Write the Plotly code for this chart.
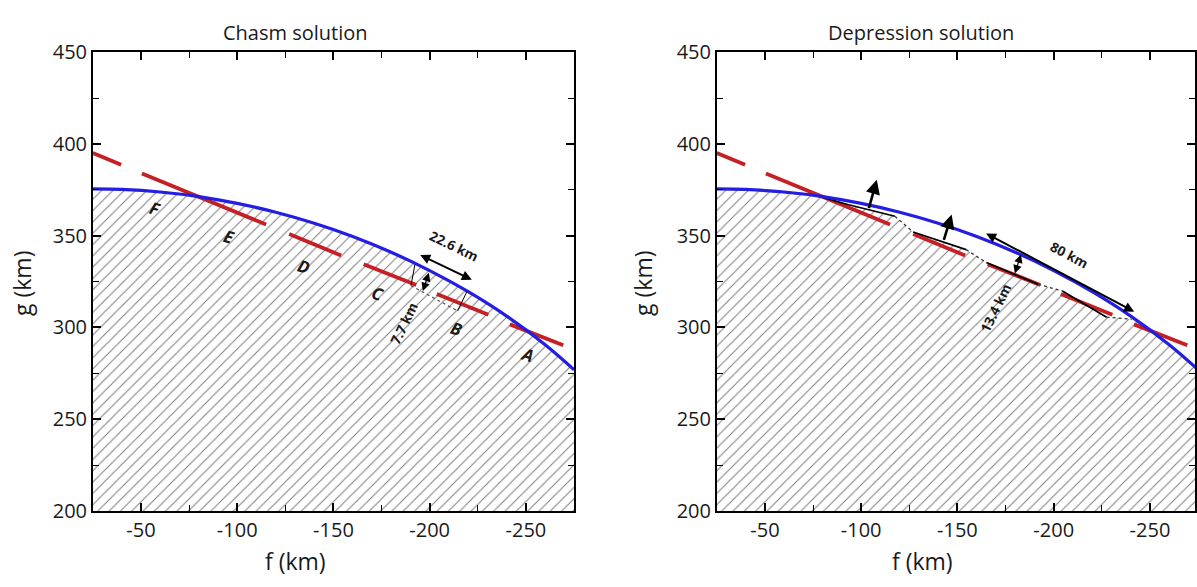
import plotly.graph_objects as go

W, H = 1197, 587

# ---------------- data ----------------
# outer surface (blue curve)
blue_f = [-25, -40, -60, -80, -100, -120, -140, -160, -180, -200, -220, -240, -260, -275]
blue_g = [375.5, 375.2, 373.8, 371.3, 367.6, 362.8, 356.8, 349.6, 341.0, 331.0, 319.5, 306.2, 290.6, 277.0]

# red dashed fault line (segments)
red_f = [[-25, -39.7], [-50.5, -115], [-127, -154], [-165.7, -193], [-203.7, -230.5], [-241.7, -269.4]]
red_g = [[395, 388.6], [383.9, 356.1], [350.9, 339.2], [334.5, 323.2], [318.2, 306.9], [301.7, 290.3]]

# fault labels
fault_names = ["A", "B", "C", "D", "E", "F"]
fault_f = [-251, -214, -173, -134.7, -95.5, -57.5]
fault_g = [285.5, 299.5, 318.5, 333.5, 349.5, 365]

# chasm (left panel)
chasm_wall_f = [[-192.3, -190.3], [-214.5, -219.3]]
chasm_wall_g = [[334.2, 322.8], [309.0, 319.5]]
chasm_floor_f = [-190.3, -196.0, -214.5]
chasm_floor_g = [322.8, 319.6, 309.0]

# depression profile (right panel, top of hatched body)
dep_f = [-25, -45, -75, -93, -117.5, -127, -154.5, -165, -192, -204.5, -227.5, -240.5, -250, -260, -275]
dep_g = [375.5, 375.0, 372.3, 367.0, 360.6, 352.0, 342.4, 335.4, 323.5, 319.9, 305.6, 304.5, 298.5, 290.6, 277.0]
dep_solid_f = [[-25, -45, -75, -93, -117.5], [-127, -154.5], [-165, -192], [-204.5, -227.5]]
dep_solid_g = [[375.5, 375.0, 372.3, 367.0, 360.6], [352.0, 342.4], [335.4, 323.5], [319.9, 305.6]]
dep_dot_f = [[-117.5, -127], [-154.5, -165], [-192, -204.5], [-227.5, -240.5]]
dep_dot_g = [[360.6, 352.0], [342.4, 335.4], [323.5, 319.9], [305.6, 304.5]]

# arrows: (tail_f, tail_g, head_f, head_g)
left_arrows = [(-194.3, 339.9, -221.9, 326.0), (-196.2, 319.0, -199.6, 329.8)]
left_arrow_w = [2.0, 1.3]
right_up_arrows = [(-103.8, 364.2, -108.1, 380.5), (-142.7, 346.9, -147.0, 361.5)]
right_dbl_arrows = [(-164.1, 351.7, -241.8, 308.6), (-179.6, 328.6, -183.0, 339.8)]
right_dbl_w = [2.0, 1.3]

# measure labels
left_texts = ["22.6 km", "7.7 km"]
left_text_f = [-212.5, -186.5]
left_text_g = [344.5, 302.0]
left_text_ang = [26, -64]
right_texts = ["80 km", "13.4 km"]
right_text_f = [-208.0, -170.0]
right_text_g = [339.5, 310.5]
right_text_ang = [28, -64]

titles = ["Chasm solution", "Depression solution"]
xticks = [-50, -100, -150, -200, -250]
xtick_text = ["-50", "-100", "-150", "-200", "-250"]
yticks = [200, 250, 300, 350, 400, 450]

# ---------------- styling ----------------
BLUE = "rgb(35,30,225)"
RED = "rgb(196,32,38)"
FONT = "Open Sans"
TXT = "#1a1a1a"


def seg_xy(fl, gl):
    xs, ys = [], []
    for f, g in zip(fl, gl):
        xs += list(f) + [None]
        ys += list(g) + [None]
    return xs, ys


fig = go.Figure()
hatch = dict(shape="/", size=8, solidity=0.13, fgcolor="black", bgcolor="white")

for ax, (xa, ya) in enumerate([("x", "y"), ("x2", "y2")]):
    top_f = blue_f if ax == 0 else dep_f
    top_g = blue_g if ax == 0 else dep_g
    fig.add_trace(go.Scatter(x=top_f, y=top_g, xaxis=xa, yaxis=ya, mode="lines",
                             line=dict(width=0, shape="spline" if ax == 0 else "linear"),
                             fill="tozeroy", fillcolor="white", fillpattern=hatch,
                             hoverinfo="skip", showlegend=False))
    rx, ry = seg_xy(red_f, red_g)
    fig.add_trace(go.Scatter(x=rx, y=ry, xaxis=xa, yaxis=ya, mode="lines",
                             line=dict(color=RED, width=3.8), showlegend=False))

# right panel black depression lines (drawn before blue)
sx, sy = seg_xy(dep_solid_f, dep_solid_g)
fig.add_trace(go.Scatter(x=sx, y=sy, xaxis="x2", yaxis="y2", mode="lines",
                         line=dict(color="black", width=1.7), showlegend=False))
dx, dy = seg_xy(dep_dot_f, dep_dot_g)
fig.add_trace(go.Scatter(x=dx, y=dy, xaxis="x2", yaxis="y2", mode="lines",
                         line=dict(color="#333", width=1.3, dash="dot"), showlegend=False))

for xa, ya in [("x", "y"), ("x2", "y2")]:
    fig.add_trace(go.Scatter(x=blue_f, y=blue_g, xaxis=xa, yaxis=ya, mode="lines",
                             line=dict(color=BLUE, width=3.2, shape="spline"), showlegend=False))

# chasm lines (left)
wx, wy = seg_xy(chasm_wall_f, chasm_wall_g)
fig.add_trace(go.Scatter(x=wx, y=wy, xaxis="x", yaxis="y", mode="lines",
                         line=dict(color="black", width=1), showlegend=False))
fig.add_trace(go.Scatter(x=chasm_floor_f, y=chasm_floor_g, xaxis="x", yaxis="y", mode="lines",
                         line=dict(color="#555", width=1.2, dash="dot"), showlegend=False))

ann = []
# fault labels
for n, f, g in zip(fault_names, fault_f, fault_g):
    ann.append(dict(x=f, y=g, xref="x", yref="y", text=f"<i><b>{n}</b></i>", showarrow=False,
                    textangle=18, font=dict(family=FONT, size=17, color=TXT)))
# measure labels
for t, f, g, a in zip(left_texts, left_text_f, left_text_g, left_text_ang):
    ann.append(dict(x=f, y=g, xref="x", yref="y", text=f"<b>{t}</b>", showarrow=False,
                    textangle=a, font=dict(family=FONT, size=13.5, color=TXT)))
for t, f, g, a in zip(right_texts, right_text_f, right_text_g, right_text_ang):
    ann.append(dict(x=f, y=g, xref="x2", yref="y2", text=f"<b>{t}</b>", showarrow=False,
                    textangle=a, font=dict(family=FONT, size=13.5, color=TXT)))
# arrows
for (tf, tg, hf, hg), w in zip(left_arrows, left_arrow_w):
    ann.append(dict(x=hf, y=hg, ax=tf, ay=tg, xref="x", yref="y", axref="x", ayref="y",
                    text="", showarrow=True, arrowhead=2, arrowside="end+start",
                    arrowsize=1.0 if w > 1.5 else 1.3, arrowwidth=w, arrowcolor="black"))
for tf, tg, hf, hg in right_up_arrows:
    ann.append(dict(x=hf, y=hg, ax=tf, ay=tg, xref="x2", yref="y2", axref="x2", ayref="y2",
                    text="", showarrow=True, arrowhead=2, arrowsize=1.1,
                    arrowwidth=2.6, arrowcolor="black"))
for (tf, tg, hf, hg), w in zip(right_dbl_arrows, right_dbl_w):
    ann.append(dict(x=hf, y=hg, ax=tf, ay=tg, xref="x2", yref="y2", axref="x2", ayref="y2",
                    text="", showarrow=True, arrowhead=2, arrowside="end+start",
                    arrowsize=1.0 if w > 1.5 else 1.3, arrowwidth=w, arrowcolor="black"))

# titles & axis titles (positioned in pixels)
for t, cx in zip(titles, [296, 923]):
    ann.append(dict(x=cx / W, y=1 - 19 / H, xref="paper", yref="paper", text=t, showarrow=False,
                    xanchor="center", yanchor="middle", font=dict(family=FONT, size=20, color=TXT)))
for cx in [296, 924]:
    ann.append(dict(x=cx / W, y=1 - 573 / H, xref="paper", yref="paper", text="f (km)", showarrow=False,
                    xanchor="center", yanchor="middle", font=dict(family=FONT, size=23, color=TXT)))
for cx in [22, 644]:
    ann.append(dict(x=cx / W, y=1 - 282 / H, xref="paper", yref="paper", text="g (km)", showarrow=False,
                    textangle=-90, xanchor="center", yanchor="middle",
                    font=dict(family=FONT, size=23, color=TXT)))

axis_common = dict(showgrid=False, zeroline=False, showline=True, linecolor="black", linewidth=1.6,
                   mirror="ticks", ticks="inside", ticklen=8, tickwidth=1.5, tickcolor="black",
                   tickfont=dict(family=FONT, size=20, color=TXT),
                   minor=dict(ticks="inside", ticklen=6, tickwidth=1.3, tickcolor="black", showgrid=False))

ydom = [1 - 521 / H, 1 - 40 / H]
fig.update_layout(
    width=W, height=H, margin=dict(l=0, r=0, t=0, b=0),
    paper_bgcolor="white", plot_bgcolor="white", showlegend=False,
    xaxis=dict(domain=[93 / W, 575 / W], range=[-25, -275], tickvals=xticks, ticktext=xtick_text,
               anchor="y", minor_dtick=25, minor_tick0=0, **axis_common),
    yaxis=dict(domain=ydom, range=[200, 450], tickvals=yticks, anchor="x",
               minor_dtick=25, minor_tick0=0, **axis_common),
    xaxis2=dict(domain=[718 / W, 1.0], range=[-25, -273.4], tickvals=xticks, ticktext=xtick_text,
                anchor="y2", minor_dtick=25, minor_tick0=0, **axis_common),
    yaxis2=dict(domain=ydom, range=[200, 450], tickvals=yticks, anchor="x2",
                minor_dtick=25, minor_tick0=0, **axis_common),
    annotations=ann,
)

fig.write_html("out.html")
